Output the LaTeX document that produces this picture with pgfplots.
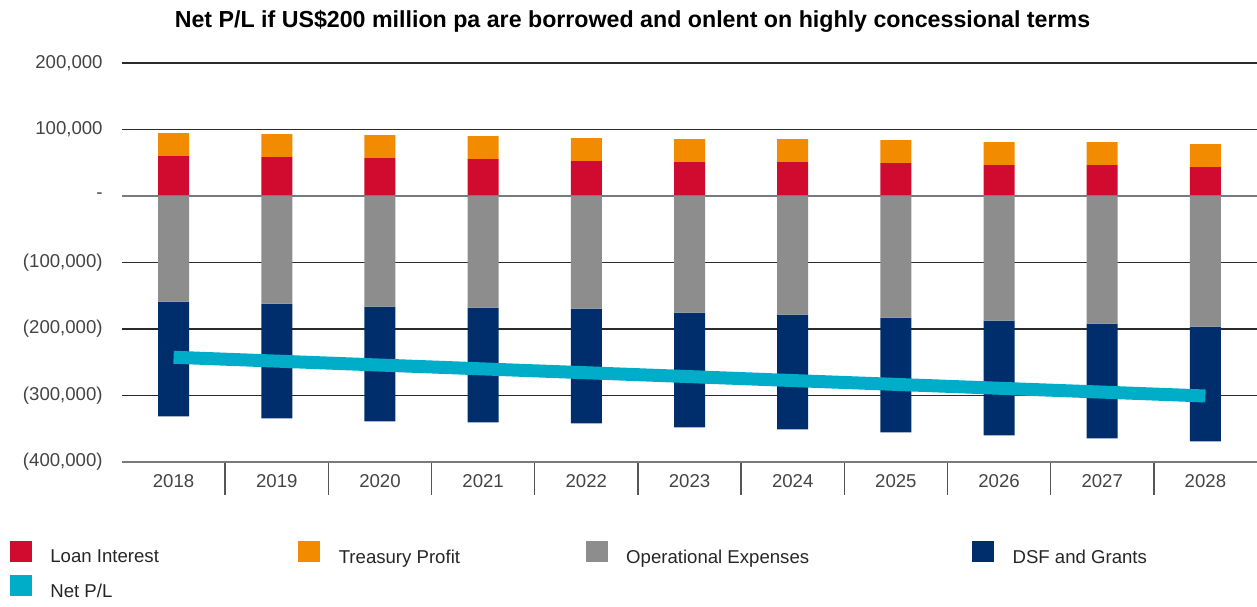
\documentclass[border=0pt]{standalone}
\usepackage{fontspec}
\setmainfont{Liberation Sans}
\usepackage{pgfplots}
\usepackage{pgfplotstable}
\pgfplotsset{compat=1.18}

\definecolor{loanc}{HTML}{D10A2F}
\definecolor{treasc}{HTML}{F38B00}
\definecolor{opexc}{HTML}{8C8D8C}
\definecolor{dsfc}{HTML}{002E6C}
\definecolor{netc}{HTML}{00ADC9}
\definecolor{gridc}{HTML}{2B2B2B}
\definecolor{zeroc}{HTML}{7A7A7A}
\definecolor{labc}{HTML}{444444}

% values, year index 0 = 2018
\pgfplotstableread{
x loan  treasury opex    dsf     net
0 60000 34500   -159000 -172500 -242500
1 58500 34500   -162000 -172500 -248300
2 57000 34500   -166500 -172500 -254200
3 55500 34500   -168000 -172500 -260000
4 52500 34500   -169500 -172500 -265800
5 51000 34500   -175500 -172500 -271600
6 51000 34500   -178500 -172500 -277500
7 49500 34500   -183000 -172500 -283300
8 46500 34500   -187500 -172500 -289100
9 46500 34500   -192000 -172500 -294900
10 43500 34500  -196500 -172500 -300750
}\pltable

\pgfplotsset{
  base/.style={
    at={(0,0)}, anchor=south west, scale only axis,
    width=567.5pt, height=199.5pt,
    xmin=-0.5, xmax=10.5, ymin=-400000, ymax=200000,
    axis line style={draw=none}, tick style={draw=none},
    major tick length=0pt, clip=false, scaled y ticks=false,
  },
  every tick label/.append style={font=\fontsize{9.3}{11}\selectfont, text=labc, inner sep=0pt},
}

\begin{document}
\begin{tikzpicture}
\useasboundingbox (-61pt,-72pt) rectangle (567.5pt,231pt);

% axis 1: grid, labels, positive stack, legend
\begin{axis}[base,
  ybar stacked, bar width=15.5pt,
  ytick={-400000,-300000,-200000,-100000,0,100000,200000},
  yticklabels={{(400,000)},{(300,000)},{(200,000)},{(100,000)},{-},{100,000},{200,000}},
  xtick={0,1,2,3,4,5,6,7,8,9,10},
  xticklabels={2018,2019,2020,2021,2022,2023,2024,2025,2026,2027,2028},
  yticklabel style={anchor=east, xshift=-9.5pt},
  xticklabel style={anchor=north, yshift=-6.2pt},
  ymajorgrids, major grid style={gridc, line width=0.75pt},
  legend columns=4,
  legend cell align=left,
  legend image code/.code={\fill[#1, draw=none] (0pt,-2pt) rectangle (11pt,8.5pt); \path (20pt,0pt);},
  legend style={at={(0,0)}, anchor=north west, xshift=-56pt, yshift=-39.5pt,
    draw=none, fill=none, inner sep=0pt, outer sep=0pt,
    row sep=4.5pt, column sep=0pt,
    nodes={inner sep=0pt, text=black!85, font=\fontsize{9.3}{11}\selectfont}},
]
\draw[zeroc, line width=1pt] (axis cs:-0.5,0) -- (axis cs:10.5,0);
\draw[zeroc, line width=1pt] (axis cs:-0.5,-400000) -- (axis cs:10.5,-400000);
\pgfplotsinvokeforeach{0.5,1.5,2.5,3.5,4.5,5.5,6.5,7.5,8.5,9.5}{
  \draw[gridc!80, line width=0.75pt] (axis cs:#1,-400000) -- ([yshift=-16.5pt]axis cs:#1,-400000);
}
\addplot[fill=loanc, draw=none, forget plot] table[x=x, y=loan] {\pltable};
\addplot[fill=treasc, draw=none, forget plot] table[x=x, y=treasury] {\pltable};
\addlegendimage{fill=loanc}
\addlegendentry{\makebox[124pt][l]{Loan Interest}}
\addlegendimage{fill=treasc}
\addlegendentry{\makebox[123.5pt][l]{Treasury Profit}}
\addlegendimage{fill=opexc}
\addlegendentry{\makebox[173pt][l]{Operational Expenses}}
\addlegendimage{fill=dsfc}
\addlegendentry{DSF and Grants}
\addlegendimage{fill=netc}
\addlegendentry{Net P/L}
\end{axis}

% axis 2: negative stack
\begin{axis}[base, hide axis, ybar stacked, bar width=15.5pt]
\addplot[fill=opexc, draw=none] table[x=x, y=opex] {\pltable};
\addplot[fill=dsfc, draw=none] table[x=x, y=dsf] {\pltable};
\end{axis}

% axis 3: net P/L line
\begin{axis}[base, hide axis]
\addplot[netc, line width=6.5pt, line cap=butt, no markers] table[x=x, y=net] {\pltable};
\end{axis}

\node[font=\bfseries\fontsize{11.6}{13}\selectfont, anchor=base] at (255.25pt,217pt)
  {Net P/L if US\$200 million pa are borrowed and onlent on highly concessional terms};
\end{tikzpicture}
\end{document}
